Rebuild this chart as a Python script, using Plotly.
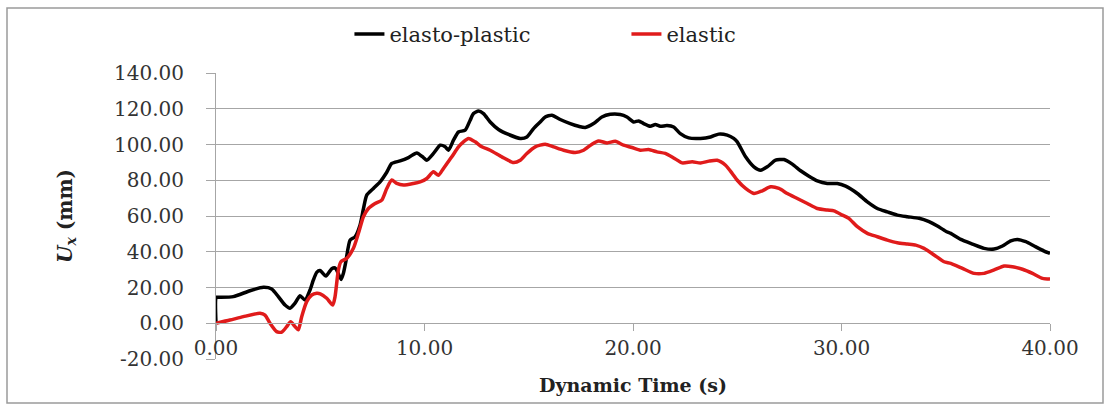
import plotly.graph_objects as go

# elasto-plastic series
t_ep = [0, 0.02, 0.19, 0.83, 1.63, 2.27, 2.67, 2.99, 3.31, 3.55, 3.79, 4.03, 4.27, 4.51, 4.67, 4.83,
        4.99, 5.27, 5.55, 5.71, 5.79, 6.0, 6.11, 6.22, 6.43, 6.67, 6.91, 7.07, 7.23, 7.55, 7.87, 8.19,
        8.43, 8.83, 9.23, 9.63, 9.95, 10.11, 10.43, 10.75, 10.99, 11.15, 11.39, 11.63, 11.95, 12.19,
        12.35, 12.59, 12.83, 13.15, 13.55, 14.03, 14.59, 14.91, 15.23, 15.55, 15.79, 16.11, 16.51,
        16.99, 17.39, 17.71, 18.11, 18.51, 18.91, 19.39, 19.71, 20.03, 20.27, 20.51, 20.83, 21.07,
        21.31, 21.63, 21.95, 22.27, 22.67, 23.24, 23.72, 24.11, 24.52, 24.83, 25.0, 25.4, 25.8, 26.12,
        26.44, 26.84, 27.24, 27.64, 28.04, 28.44, 28.84, 29.32, 29.8, 30.2, 30.76, 31.24, 31.72, 32.2,
        32.68, 33.16, 33.72, 34.2, 34.6, 35.0, 35.24, 35.72, 36.28, 36.84, 37.32, 37.72, 38.12, 38.44,
        38.84, 39.24, 39.72, 40.0]
u_ep = [0, 14.5, 14.5, 14.9, 18.2, 20.1, 19.2, 14.9, 10.2, 8.4, 11.2, 15.4, 13.0, 18.6, 24.2, 28.5,
        29.5, 26.4, 30.5, 31.0, 29.8, 24.5, 27.9, 34.0, 46.5, 48.4, 55.0, 64.0, 71.7, 75.4, 79.1, 84.5,
        89.4, 90.8, 92.7, 95.3, 92.7, 91.2, 95.0, 99.6, 98.7, 96.8, 102.4, 107.0, 108.0, 113.6,
        117.3, 118.8, 117.3, 112.6, 108.4, 105.6, 103.4, 104.2, 108.9, 112.6, 115.4, 116.4, 114.0,
        111.7, 110.2, 109.5, 111.7, 115.4, 116.9, 116.8, 115.4, 112.6, 113.2, 111.7, 110.2, 111.2,
        110.2, 110.6, 109.8, 106.1, 103.7, 103.4, 104.2, 105.8, 105.2, 103.4, 101.5, 93.1, 87.5, 85.6,
        87.5, 91.2, 91.6, 89.0, 85.3, 82.3, 79.7, 78.2, 78.2, 76.7, 72.6, 67.9, 64.2, 62.3,
        60.5, 59.6, 58.7, 56.8, 54.4, 51.5, 50.3, 46.9, 44.3, 41.9, 41.5, 43.2, 46.1, 46.9,
        45.6, 43.2, 40.4, 39.1]

# elastic series
t_el = [0, 0.67, 1.31, 2.11, 2.35, 2.59, 2.91, 3.15, 3.39, 3.58, 3.79, 3.95, 4.11, 4.35, 4.59, 4.83,
        5.0, 5.31, 5.6, 5.71, 5.87, 5.99, 6.27, 6.59, 6.83, 7.07, 7.31, 7.63, 7.95, 8.19, 8.43, 8.67,
        8.99, 9.47, 9.79, 10.11, 10.43, 10.67, 10.91, 11.31, 11.63, 11.87, 12.11, 12.43, 12.75, 13.15,
        13.71, 14.27, 14.59, 14.91, 15.31, 15.79, 16.19, 16.67, 17.23, 17.63, 18.03, 18.35, 18.76,
        19.15, 19.55, 19.95, 20.35, 20.75, 21.15, 21.55, 21.95, 22.36, 22.84, 23.24, 23.64, 24.04,
        24.44, 24.76, 25.0, 25.4, 25.8, 26.2, 26.6, 27.0, 27.4, 27.88, 28.36, 28.84, 29.32, 29.64,
        30.04, 30.35, 30.76, 31.24, 31.72, 32.2, 32.68, 33.16, 33.56, 33.96, 34.44, 34.92, 35.24,
        35.8, 36.36, 36.84, 37.32, 37.8, 38.2, 38.68, 39.16, 39.64, 40.0]
u_el = [0, 1.8, 3.7, 5.6, 4.6, 0.0, -4.7, -5.0, -1.9, 0.9, -1.9, -3.7, 3.7, 12.1, 15.8, 16.8,
        16.5, 14.0, 10.2, 14.9, 29.8, 34.4, 36.3, 41.9, 50.3, 59.6, 64.2, 67.0, 68.9, 75.4, 80.1, 78.2,
        77.3, 78.2, 79.1, 81.0, 84.7, 82.8, 86.6, 93.1, 98.7, 101.5, 103.4, 101.5, 98.7, 96.8,
        93.1, 89.9, 91.2, 95.0, 98.7, 100.2, 98.7, 96.8, 95.5, 96.8, 100.2, 102.0, 100.9,
        101.8, 99.6, 98.3, 96.8, 97.2, 95.9, 95.0, 92.5, 89.7, 90.3, 89.7, 90.7, 91.2,
        88.4, 83.8, 80.0, 75.4, 72.6, 74.1, 76.3, 75.4, 72.6, 69.8, 67.0, 64.2, 63.3, 62.9,
        60.5, 58.7, 54.0, 50.3, 48.4, 46.5, 45.0, 44.3, 43.7, 41.9, 38.2, 34.4, 33.5,
        30.7, 27.9, 27.9, 29.8, 32.0, 31.6, 30.2, 27.9, 25.1, 24.7]

y_ticks = [-20, 0, 20, 40, 60, 80, 100, 120, 140]
y_labels = ["-20.00", "0.00", "20.00", "40.00", "60.00", "80.00", "100.00", "120.00", "140.00"]
x_ticks = [0, 10, 20, 30, 40]
x_labels = ["0.00", "10.00", "20.00", "30.00", "40.00"]

FONT = "DejaVu Serif"
GRID = "#a6a6a6"

fig = go.Figure()
fig.add_trace(go.Scatter(x=t_ep, y=u_ep, mode="lines", name="elasto-plastic",
                         line=dict(color="#000000", width=3.5, shape="spline", smoothing=0.6)))
fig.add_trace(go.Scatter(x=t_el, y=u_el, mode="lines", name="elastic",
                         line=dict(color="#e01b1b", width=3.5, shape="spline", smoothing=0.6)))

fig.update_layout(
    width=1110, height=406,
    margin=dict(l=216, r=60, t=73, b=47, autoexpand=False),
    paper_bgcolor="white", plot_bgcolor="white",
    font=dict(family=FONT, color="#333333", size=20),
    showlegend=True,
    legend=dict(orientation="h", x=0.16, xanchor="left", y=1.135, yanchor="middle",
                font=dict(family=FONT, size=21, color="#222222"),
                bgcolor="rgba(0,0,0,0)", entrywidth=232, entrywidthmode="pixels"),
    xaxis=dict(range=[0, 40], tickvals=x_ticks, ticktext=x_labels,
               anchor="free", position=0.125, automargin=False,
               showgrid=False, zeroline=False, showline=True, linecolor=GRID, linewidth=1,
               ticks="outside", ticklen=7, tickcolor=GRID,
               tickfont=dict(family=FONT, size=20, color="#333333"),
               title=dict(text="<b>Dynamic Time (s)</b>", font=dict(family=FONT, size=19, color="#222222"),
                          standoff=19)),
    yaxis=dict(range=[-20, 140], tickvals=y_ticks, ticktext=y_labels, automargin=False,
               showgrid=True, gridcolor=GRID, gridwidth=1, zeroline=False,
               showline=True, linecolor=GRID, linewidth=1,
               ticks="outside", ticklen=9, tickcolor=GRID, ticklabelstandoff=18,
               tickfont=dict(family=FONT, size=20, color="#333333"),
               title=dict(text="<b><i>U</i><sub><i>x</i></sub> (mm)</b>",
                          font=dict(family=FONT, size=20, color="#222222"), standoff=36)),
)

# outer chart frame
fig.add_shape(type="rect", xref="paper", yref="paper",
              x0=(7 - 216) / 834, x1=(1103 - 216) / 834,
              y0=(359 - 403) / 286, y1=(359 - 8) / 286,
              line=dict(color="#9a9a9a", width=1.5), fillcolor="rgba(0,0,0,0)", layer="below")

fig.write_html("out.html")
